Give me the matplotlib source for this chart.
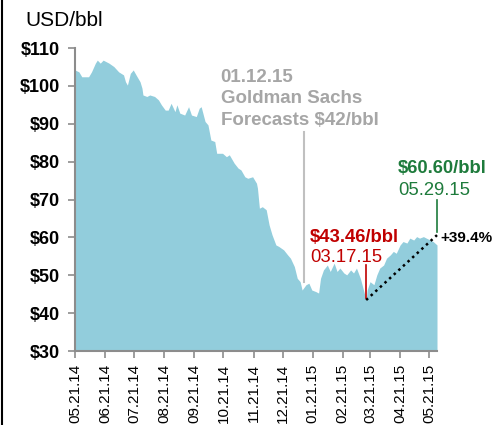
import matplotlib
matplotlib.use("Agg")
import matplotlib.pyplot as plt
import matplotlib.dates as mdates
from matplotlib.lines import Line2D
import pandas as pd

plt.rcParams['font.family'] = ['Liberation Sans', 'DejaVu Sans']

dates = ["2014-05-21", "2014-05-25", "2014-05-28", "2014-06-04", "2014-06-07", "2014-06-11",
         "2014-06-13", "2014-06-16", "2014-06-19", "2014-06-25", "2014-06-30", "2014-07-05",
         "2014-07-10", "2014-07-12", "2014-07-14", "2014-07-17", "2014-07-20", "2014-07-24",
         "2014-07-27", "2014-07-29", "2014-07-30", "2014-08-03", "2014-08-06", "2014-08-11",
         "2014-08-15", "2014-08-18", "2014-08-22", "2014-08-25", "2014-08-28", "2014-09-01",
         "2014-09-03", "2014-09-06", "2014-09-11", "2014-09-15", "2014-09-18", "2014-09-23",
         "2014-09-26", "2014-09-28", "2014-10-02", "2014-10-05", "2014-10-08", "2014-10-12",
         "2014-10-14", "2014-10-20", "2014-10-24", "2014-10-27", "2014-11-01", "2014-11-05",
         "2014-11-08", "2014-11-12", "2014-11-15", "2014-11-20", "2014-11-24", "2014-11-25",
         "2014-11-27", "2014-11-30", "2014-12-04", "2014-12-07", "2014-12-10", "2014-12-14",
         "2014-12-17", "2014-12-22", "2014-12-26", "2014-12-29", "2015-01-02", "2015-01-05",
         "2015-01-08", "2015-01-10", "2015-01-14", "2015-01-17", "2015-01-20", "2015-01-24",
         "2015-01-27", "2015-01-29", "2015-02-01", "2015-02-05", "2015-02-08", "2015-02-12",
         "2015-02-15", "2015-02-18", "2015-02-22", "2015-02-25", "2015-03-01", "2015-03-04",
         "2015-03-07", "2015-03-11", "2015-03-17", "2015-03-18", "2015-03-21", "2015-03-25",
         "2015-03-28", "2015-03-31", "2015-04-04", "2015-04-07", "2015-04-11", "2015-04-14",
         "2015-04-17", "2015-04-21", "2015-04-24", "2015-04-28", "2015-05-01", "2015-05-05",
         "2015-05-08", "2015-05-11", "2015-05-15", "2015-05-18", "2015-05-22", "2015-05-25",
         "2015-05-29"]
prices = [104.2, 103.7, 102.4, 102.4, 103.7, 106.0,
          106.8, 106.0, 106.8, 106.0, 105.1, 103.7,
          102.9, 101.1, 100.2, 103.3, 104.2, 102.4,
          101.1, 99.4, 97.6, 97.2, 97.6, 97.2,
          96.3, 95.0, 93.6, 93.6, 95.4, 93.2,
          95.0, 92.8, 92.3, 94.5, 92.3, 91.9,
          94.1, 94.5, 90.6, 89.7, 85.7, 85.3,
          82.2, 82.2, 81.3, 81.8, 79.6, 78.3,
          77.8, 76.0, 75.6, 76.0, 74.3, 73.0,
          67.7, 68.1, 67.3, 63.3, 60.7, 58.0,
          57.6, 56.7, 55.4, 54.5, 52.3, 49.2,
          48.3, 46.1, 47.5, 47.9, 46.1, 45.7,
          45.3, 49.2, 51.4, 52.7, 51.0, 53.2,
          51.0, 51.9, 50.6, 50.1, 51.4, 50.6,
          51.9, 49.2, 43.46, 46.1, 48.3, 47.5,
          50.1, 51.9, 52.7, 54.5, 55.4, 56.3,
          55.8, 58.0, 58.9, 58.5, 59.8, 59.3,
          60.2, 59.8, 60.2, 59.8, 59.3, 58.9,
          58.0]

tick_dates = ["2014-05-21", "2014-06-21", "2014-07-21", "2014-08-21", "2014-09-21",
              "2014-10-21", "2014-11-21", "2014-12-21", "2015-01-21", "2015-02-21",
              "2015-03-21", "2015-04-21", "2015-05-21"]
tick_labels = ["05.21.14", "06.21.14", "07.21.14", "08.21.14", "09.21.14", "10.21.14",
               "11.21.14", "12.21.14", "01.21.15", "02.21.15", "03.21.15", "04.21.15",
               "05.21.15"]
y_ticks = [30, 40, 50, 60, 70, 80, 90, 100, 110]
y_labels = ["$30", "$40", "$50", "$60", "$70", "$80", "$90", "$100", "$110"]

low_date, low_price = "2015-03-17", 43.46
high_date, high_price = "2015-05-29", 60.60
gs_date = "2015-01-12"

d = pd.to_datetime(dates)
D = lambda s: mdates.date2num(pd.Timestamp(s))

fig = plt.figure(figsize=(4.95, 4.25), dpi=100)
ax = fig.add_axes([75/495, 1-351/425, (437-75)/495, (351-48)/425])

ax.fill_between(d, prices, 30, color="#92CDDC", lw=0)
ax.set_ylim(30, 110)
ax.set_xlim(D("2014-05-21"), D("2015-05-29"))

ax.set_yticks(y_ticks)
ax.set_yticklabels(y_labels, fontsize=13, fontweight="bold")
ax.set_xticks([D(t) for t in tick_dates])
ax.set_xticklabels(tick_labels, rotation=90, fontsize=11)

for s in ["top", "right"]:
    ax.spines[s].set_visible(False)
for s in ["left", "bottom"]:
    ax.spines[s].set_color("#8c8c8c")
    ax.spines[s].set_linewidth(1.5)
ax.tick_params(axis="both", color="#8c8c8c", width=1.2, length=5, direction="out")
ax.tick_params(axis="y", pad=6)
ax.tick_params(axis="x", pad=4)

# Goldman annotation
ax.plot([D(gs_date)]*2, [48.3, 87.9], color="#c0c0c0", lw=1.5)
gx = D("2014-10-18")
gcol = "#a6a6a6"
ax.text(gx, 101.0, "01.12.15", color=gcol, fontsize=13.5, fontweight="bold", va="baseline")
ax.text(gx, 95.5, "Goldman Sachs", color=gcol, fontsize=13.5, fontweight="bold", va="baseline")
ax.text(gx, 89.7, "Forecasts $42/bbl", color=gcol, fontsize=13.5, fontweight="bold", va="baseline")

# Low annotation
red = "#c00000"
ax.plot([D(low_date)]*2, [43.9, 52.7], color=red, lw=1.2)
rx = D("2015-01-18")
ax.text(rx, 58.8, "$43.46/bbl", color=red, fontsize=13.3, fontweight="bold", va="baseline")
ax.text(rx, 53.5, "03.17.15", color=red, fontsize=13.3, va="baseline")

# High annotation
green = "#1e7b3c"
ax.plot([D(high_date)]*2, [61.45, 69.9], color=green, lw=1.2, clip_on=False)
hx = D("2015-04-19")
ax.text(hx, 77.0, "$60.60/bbl", color=green, fontsize=13.3, fontweight="bold", va="baseline")
ax.text(hx, 71.2, "05.29.15", color=green, fontsize=13.3, va="baseline")

ax.plot([D(low_date), D(high_date)], [low_price, high_price], color="black", lw=1.8,
        ls=(0, (1, 1.5)), clip_on=False)
ax.text(D("2015-06-01"), 58.8, "+39.4%", color="black", fontsize=11, fontweight="bold",
        va="baseline")

fig.text(25/495, 1-20/425, "USD/bbl", fontsize=15, va="center", ha="left")

fig.add_artist(Line2D([1.5/495]*2, [0, 1], transform=fig.transFigure, color="black", lw=1.5))

fig.savefig("out.png", dpi=100)
